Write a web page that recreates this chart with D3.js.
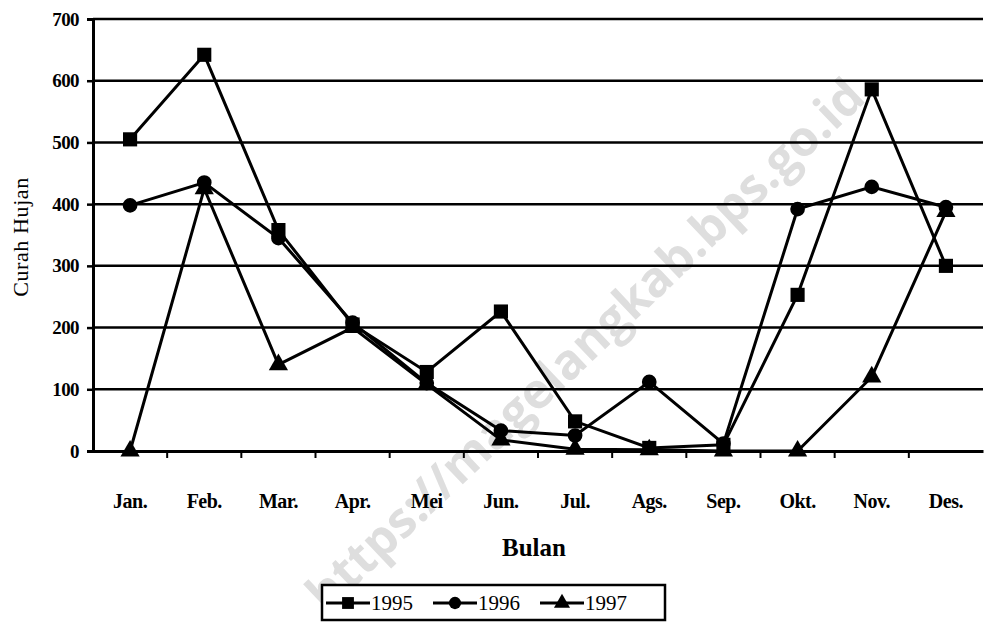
<!DOCTYPE html>
<html>
<head>
<meta charset="utf-8">
<script src="https://cdn.jsdelivr.net/npm/d3@7"></script>
<style>
  body { margin: 0; background: #fff; }
  text { font-family: "Liberation Serif", "DejaVu Serif", serif; fill: #000; }
</style>
</head>
<body>
<div id="chart"></div>
<script>
// data
var months = ["Jan.", "Feb.", "Mar.", "Apr.", "Mei", "Jun.", "Jul.", "Ags.", "Sep.", "Okt.", "Nov.", "Des."];
var rain1995 = [505, 642, 358, 205, 128, 226, 48, 5, 10, 253, 586, 300];
var rain1996 = [398, 435, 345, 208, 110, 33, 25, 112, 12, 392, 428, 395];
var rain1997 = [0, 425, 140, 200, 108, 18, 3, 2, 0, 0, 120, 388];
var yTicks = [0, 100, 200, 300, 400, 500, 600, 700];
var seriesNames = ["1995", "1996", "1997"];
var markers = ["square", "circle", "triangle"];

var chart_width = 986;
var chart_height = 627;

var svg = d3.select("#chart")
            .append("svg")
            .attr("width", chart_width)
            .attr("height", chart_height);

var x = d3.scaleBand().domain(months).range([93, 983]);
var y = d3.scaleLinear().domain([0, 700]).range([451, 19]);

var series = [rain1995, rain1996, rain1997].map(function(vals, i) {
    return { name: seriesNames[i], marker: markers[i], values: vals };
});

// watermark sits behind everything
svg.append("text")
    .attr("transform", "translate(326,614) rotate(-43.5)")
    .style("font-family", "'Open Sans', sans-serif")
    .style("font-size", "49px")
    .style("font-weight", "bold")
    .style("fill", "#dedede")
    .text("https://magelangkab.bps.go.id");

// gridlines
svg.append("g")
    .selectAll("line")
    .data(yTicks.slice(1))
    .enter()
    .append("line")
    .attr("x1", 93).attr("x2", 983)
    .attr("y1", function(d) { return y(d); })
    .attr("y2", function(d) { return y(d); })
    .attr("stroke", "#000")
    .attr("stroke-width", 2.5);

// y axis
var yAxis = svg.append("g")
    .attr("transform", "translate(93,0)")
    .call(d3.axisLeft(y).tickValues(yTicks).tickSize(6).tickPadding(8));
yAxis.select(".domain").attr("stroke-width", 3);
yAxis.selectAll(".tick line").attr("stroke-width", 2.5);
yAxis.selectAll(".tick text")
    .style("font-size", "19px")
    .style("font-weight", "bold")
    .style("letter-spacing", "-0.6px");

// x axis - ticks between categories
var xAxis = svg.append("g")
    .attr("transform", "translate(0,451)")
    .call(d3.axisBottom(x).tickSize(0).tickPadding(43));
xAxis.select(".domain").attr("stroke-width", 3);
xAxis.selectAll(".tick text")
    .style("font-size", "20px")
    .style("font-weight", "bold")
    .style("letter-spacing", "-0.5px");
xAxis.selectAll(".bound")
    .data(months.slice(1))
    .enter()
    .append("line")
    .attr("x1", function(d) { return x(d); })
    .attr("x2", function(d) { return x(d); })
    .attr("y1", 0).attr("y2", 7)
    .attr("stroke", "#000")
    .attr("stroke-width", 2);

// axis titles
svg.append("text")
    .attr("transform", "translate(28,237) rotate(-90)")
    .attr("text-anchor", "middle")
    .style("font-size", "22px")
    .style("letter-spacing", "0.6px")
    .text("Curah Hujan");

svg.append("text")
    .attr("x", 534).attr("y", 556)
    .attr("text-anchor", "middle")
    .style("font-size", "25px")
    .style("font-weight", "bold")
    .text("Bulan");

var line = d3.line()
    .x(function(d, i) { return x(months[i]) + x.bandwidth() / 2; })
    .y(function(d) { return y(d); });

var symbolType = { square: d3.symbolSquare, circle: d3.symbolCircle, triangle: d3.symbolTriangle };
var symbolSize = { square: 200, circle: 170, triangle: 160 };

var groups = svg.selectAll(".series")
    .data(series)
    .enter()
    .append("g")
    .attr("class", "series");

groups.append("path")
    .attr("d", function(d) { return line(d.values); })
    .attr("fill", "none")
    .attr("stroke", "#000")
    .attr("stroke-width", 3);

groups.selectAll(".pt")
    .data(function(d) { return d.values.map(function(v, i) { return { v: v, i: i, m: d.marker }; }); })
    .enter()
    .append("path")
    .attr("transform", function(d) {
        return "translate(" + (x(months[d.i]) + x.bandwidth() / 2) + "," + y(d.v) + ")";
    })
    .attr("d", function(d) { return d3.symbol().type(symbolType[d.m]).size(symbolSize[d.m])(); })
    .attr("fill", "#000");

// legend
var legend = svg.append("g").attr("transform", "translate(322,585)");
legend.append("rect")
    .attr("width", 343).attr("height", 35)
    .attr("fill", "#fff")
    .attr("stroke", "#000")
    .attr("stroke-width", 2.5);

var item = legend.selectAll(".item")
    .data(series)
    .enter()
    .append("g")
    .attr("transform", function(d, i) { return "translate(" + (4 + i * 107) + ",18)"; });

item.append("line")
    .attr("x1", 0).attr("x2", 44)
    .attr("stroke", "#000").attr("stroke-width", 3);
item.append("path")
    .attr("transform", "translate(22,0)")
    .attr("d", function(d) { return d3.symbol().type(symbolType[d.marker]).size(symbolSize[d.marker] * 0.7)(); })
    .attr("fill", "#000");
item.append("text")
    .attr("x", 45).attr("y", 7)
    .style("font-size", "21px")
    .text(function(d) { return d.name; });
</script>
</body>
</html>
